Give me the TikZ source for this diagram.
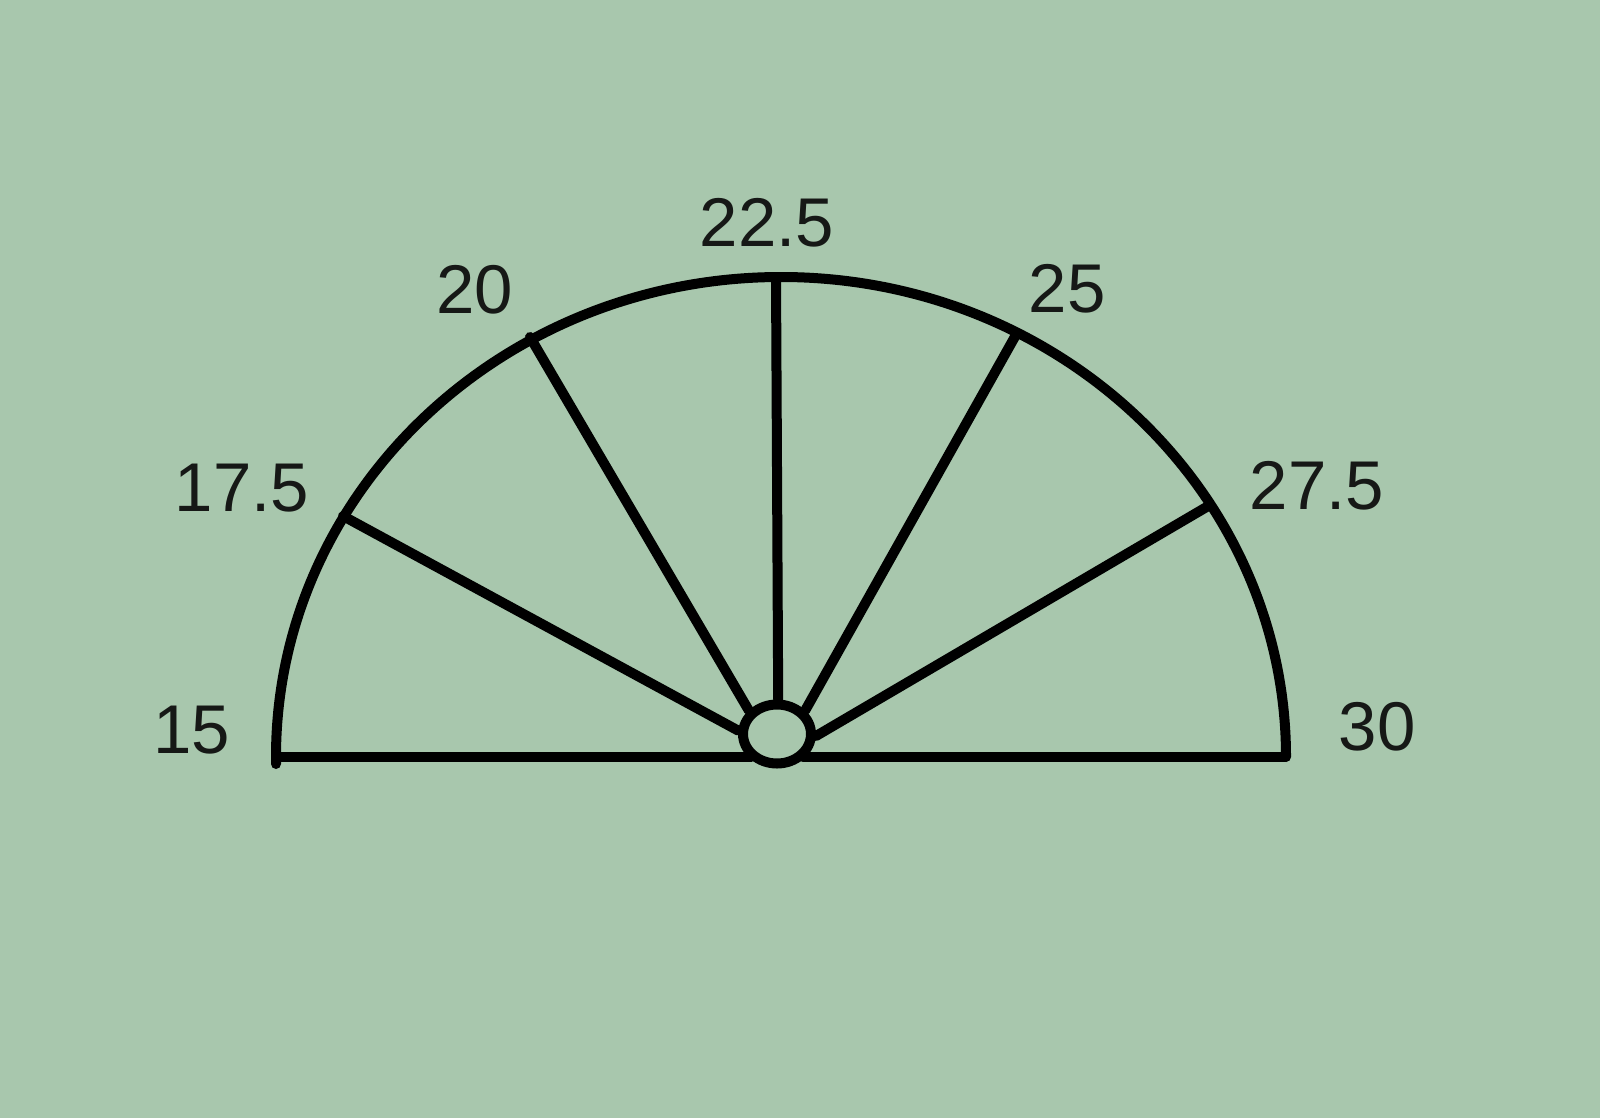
\documentclass[tikz,border=0pt]{standalone}
\usepackage{fontspec}
\setmainfont{Liberation Sans}
\usetikzlibrary{shapes.geometric}
\definecolor{bggreen}{RGB}{168,199,173}
\definecolor{ink}{RGB}{22,24,22}
\begin{document}
\begin{tikzpicture}[x=1pt,y=-1pt,
  stroke/.style={draw=black,line width=10pt,line cap=round,line join=round},
  lbl/.style={inner sep=0pt,anchor=center,text=ink,font=\fontsize{69}{72}\selectfont}]
\fill[bggreen] (0,0) rectangle (1600,1118);
\useasboundingbox (0,0) rectangle (1600,1118);
% hub
\node[ellipse,stroke,minimum width=68pt,minimum height=59pt,inner sep=0pt] (hub) at (777,734) {};
% end points
\coordinate (L) at (276,757);
\coordinate (Ld) at (276,764);
\coordinate (R) at (1285,757);
\coordinate (p175) at (343,516);
\coordinate (p20) at (530,337);
\coordinate (p225) at (776,277);
\coordinate (p25) at (1017,333);
\coordinate (p275) at (1210,505);
% arc
\draw[stroke] (Ld) -- (L) arc[start angle=180,end angle=360,x radius=505,y radius=480];
% baseline
\draw[stroke] (L) -- (L -| hub.225);
\draw[stroke] (hub.-45 |- R) -- (R);
% spokes
\draw[stroke] (hub.175) -- (p175);
\draw[stroke] (hub.140) -- (p20);
\draw[stroke] (hub.88) -- (p225);
\draw[stroke] (hub.40) -- (p25);
\draw[stroke] (hub.-3) -- (p275);
% labels
\node[lbl] (t15) at (192,730) {15};
\node[lbl] (t175) at (242,488) {17.5};
\node[lbl] (t20) at (475,290) {20};
\node[lbl] (t225) at (767,223) {22.5};
\node[lbl] (t25) at (1067,289) {25};
\node[lbl] (t275) at (1317,486) {27.5};
\node[lbl] (t30) at (1377,727) {30};
\end{tikzpicture}
\end{document}
